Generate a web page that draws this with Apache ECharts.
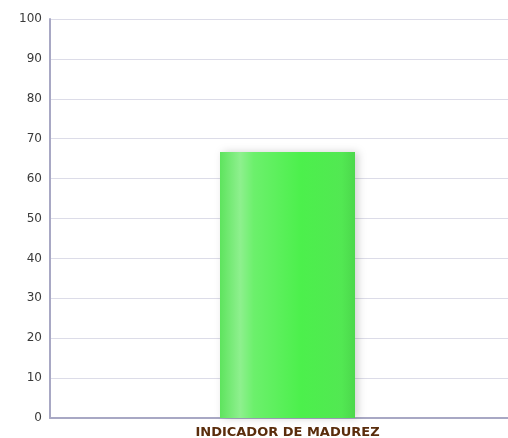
<!DOCTYPE html>
<html><head><meta charset="utf-8">
<script src="https://cdn.jsdelivr.net/npm/echarts@6/dist/echarts.min.js"></script>
<style>html,body{margin:0;padding:0;background:#fff}#c{width:508px;height:438px}</style>
</head><body><div id="c"></div>
<script>
const categories = ['INDICADOR DE MADUREZ'];
const values = [66.67];
const yTicks = [0, 10, 20, 30, 40, 50, 60, 70, 80, 90, 100];

const chart = echarts.init(document.getElementById('c'), null, {renderer: 'canvas'});
chart.setOption({
  animation: false,
  grid: {left: 50, width: 475, top: 19, bottom: 20, containLabel: false, outerBoundsMode: 'none'},
  xAxis: {
    type: 'category', data: categories,
    axisLine: {lineStyle: {color: '#a8a8c4', width: 2}},
    axisTick: {show: false},
    axisLabel: {color: '#5a2d0c', fontWeight: 'bold', fontSize: 13, fontFamily: 'DejaVu Sans', margin: 8}
  },
  yAxis: {
    type: 'value', min: yTicks[0], max: yTicks[yTicks.length - 1], interval: 10,
    axisLine: {show: true, lineStyle: {color: '#a8a8c4', width: 2}},
    axisTick: {show: false},
    axisLabel: {color: '#3a3a3a', fontSize: 12, fontFamily: 'DejaVu Sans', margin: 8},
    splitLine: {lineStyle: {color: '#dcdce8', width: 1}}
  },
  series: [{
    type: 'bar', data: values, barWidth: 135,
    itemStyle: {
      color: new echarts.graphic.LinearGradient(0, 0, 1, 0, [
        {offset: 0, color: '#5ee45e'},
        {offset: 0.15, color: '#8ef08e'},
        {offset: 0.25, color: '#6cf06c'},
        {offset: 0.6, color: '#4cf04c'},
        {offset: 0.9, color: '#52e852'},
        {offset: 1, color: '#4cd84c'}
      ]),
      shadowColor: 'rgba(0,0,0,0.18)', shadowBlur: 8, shadowOffsetX: 3, shadowOffsetY: 0
    }
  }]
});
</script></body></html>
